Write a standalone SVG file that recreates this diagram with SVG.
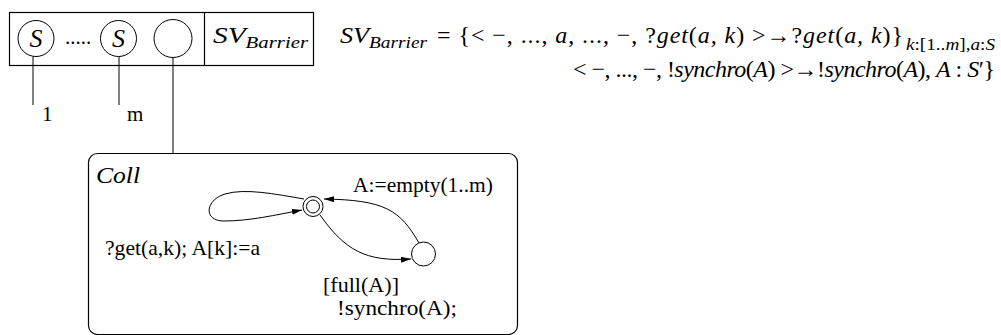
<svg xmlns="http://www.w3.org/2000/svg" width="1001" height="335" viewBox="0 0 1001 335">
<style>
.ln{fill:none;stroke:#000;stroke-width:1.2}
.thin{fill:none;stroke:#000;stroke-width:1}
.t{font-family:"Liberation Serif",serif;fill:#000}
.i{font-style:italic}
</style>
<defs>
<marker id="arr" viewBox="0 0 10 6" refX="10" refY="3" markerWidth="10" markerHeight="6" markerUnits="userSpaceOnUse" orient="auto">
<path d="M0,0 L10,3 L0,6 Z" fill="#000"/>
</marker>
</defs>
<rect width="1001" height="335" fill="#fff"/>
<g id="header">
<rect x="9.5" y="12.5" width="304" height="53" class="ln"/>
<line x1="204.5" y1="12.5" x2="204.5" y2="65.5" class="ln"/>
<text x="65" y="44" class="t" font-size="21">.....</text>
<text x="213" y="43" class="t i" font-size="24" textLength="95" lengthAdjust="spacingAndGlyphs">SV<tspan font-size="17" dy="5">Barrier</tspan></text>
</g>
<g id="s1">
<circle cx="36" cy="38.5" r="18" class="thin"/>
<text x="36" y="47" class="t i" font-size="26" text-anchor="middle">S</text>
</g>
<g id="s2">
<circle cx="118.5" cy="38.5" r="18" class="thin"/>
<text x="118.5" y="47" class="t i" font-size="26" text-anchor="middle">S</text>
</g>
<g id="s3">
<circle cx="173" cy="38.5" r="19" class="thin"/>
</g>
<g id="formula">
<text x="340" y="43" class="t i" font-size="23" textLength="87" lengthAdjust="spacingAndGlyphs">SV<tspan font-size="17" dy="5">Barrier</tspan></text>
<text x="437" y="43" class="t" font-size="24" textLength="466" lengthAdjust="spacing">= {&lt; −, ..., <tspan class="i">a</tspan>, ..., −, ?<tspan class="i">get</tspan>(<tspan class="i">a, k</tspan>) &gt;→?<tspan class="i">get</tspan>(<tspan class="i">a, k</tspan>)}</text>
<text x="906" y="50" class="t" font-size="16" textLength="89" lengthAdjust="spacingAndGlyphs"><tspan class="i">k</tspan>:[1..<tspan class="i">m</tspan>],<tspan class="i">a</tspan>:<tspan class="i">S</tspan></text>
<text x="573" y="77" class="t" font-size="24" textLength="422" lengthAdjust="spacing">&lt; −, ..., −, !<tspan class="i">synchro</tspan>(<tspan class="i">A</tspan>) &gt;→!<tspan class="i">synchro</tspan>(<tspan class="i">A</tspan>), <tspan class="i">A</tspan> : <tspan class="i">S</tspan>′}</text>
</g>
<g id="coll">
<rect x="88.5" y="153.5" width="429" height="181" rx="9" class="ln"/>
<text x="96" y="183" class="t i" font-size="24" textLength="44" lengthAdjust="spacingAndGlyphs">Coll</text>
</g>
<g id="init">
<circle cx="313" cy="206.5" r="10" class="thin"/>
<circle cx="313" cy="206.5" r="6.5" class="thin"/>
</g>
<g id="full">
<circle cx="423.5" cy="254" r="12" class="thin"/>
</g>
<g id="connectors">
<line x1="33" y1="56.5" x2="33" y2="105" class="thin"/>
<line x1="119" y1="56.5" x2="119" y2="105" class="thin"/>
<line x1="173" y1="57.5" x2="173" y2="153" class="thin"/>
<path d="M304,199 C275,194 245,188 225,194 C205,200 203,221 224,221 C250,221 275,215 302,210" class="thin" marker-end="url(#arr)"/>
<path d="M320,215 C345,250 365,262 411,259" class="thin" marker-end="url(#arr)"/>
<path d="M419,243 C400,210 385,200 324,199" class="thin" marker-end="url(#arr)"/>
</g>
<g id="labels">
<text x="42" y="121" class="t" font-size="21">1</text>
<text x="127" y="121" class="t" font-size="21">m</text>
<text x="353" y="192" class="t" font-size="21" textLength="140" lengthAdjust="spacingAndGlyphs">A:=empty(1..m)</text>
<text x="105" y="255" class="t" font-size="21" textLength="155" lengthAdjust="spacingAndGlyphs">?get(a,k); A[k]:=a</text>
<text x="323" y="292" class="t" font-size="21" textLength="76" lengthAdjust="spacingAndGlyphs">[full(A)]</text>
<text x="337" y="315" class="t" font-size="21" textLength="120" lengthAdjust="spacingAndGlyphs">!synchro(A);</text>
</g>
</svg>
